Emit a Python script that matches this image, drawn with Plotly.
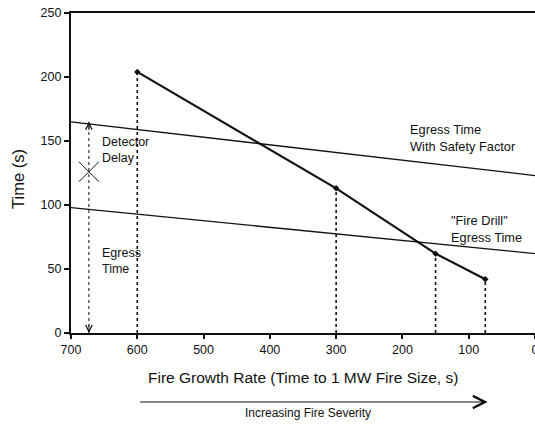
import plotly.graph_objects as go

# ---- data ----
growth_rate = [600, 300, 150, 75]          # time to 1 MW (s)
escape_time = [204, 113, 62, 42]           # available time (s)

line_x = [700, 0]
safety_egress = [165, 123]                 # Egress time with safety factor
drill_egress = [98, 62]                    # "Fire Drill" egress time

x_ticks = [700, 600, 500, 400, 300, 200, 100, 0]
y_ticks = [0, 50, 100, 150, 200, 250]

delay_x = 673
delay_top = 165
delay_mid = 126
delay_bottom = 0

FONT = "Liberation Sans, Arial, sans-serif"
INK = "#111111"

fig = go.Figure()

# vertical dotted drop lines
for gx, gy in zip(growth_rate, escape_time):
    fig.add_trace(go.Scatter(x=[gx, gx], y=[0, gy], mode="lines",
                             line=dict(color=INK, width=1.6, dash="dot"),
                             showlegend=False, hoverinfo="skip"))

# straight egress lines
fig.add_trace(go.Scatter(x=line_x, y=safety_egress, mode="lines",
                         line=dict(color=INK, width=1.3), showlegend=False))
fig.add_trace(go.Scatter(x=line_x, y=drill_egress, mode="lines",
                         line=dict(color=INK, width=1.3), showlegend=False))

# main curve
fig.add_trace(go.Scatter(x=growth_rate, y=escape_time, mode="lines+markers",
                         line=dict(color=INK, width=2.2),
                         marker=dict(color=INK, size=5, symbol="diamond"),
                         showlegend=False))

# delay / egress bracket (dotted)
fig.add_trace(go.Scatter(x=[delay_x, delay_x], y=[delay_bottom, delay_top], mode="lines",
                         line=dict(color=INK, width=1, dash="dot"),
                         showlegend=False, hoverinfo="skip"))
fig.add_trace(go.Scatter(x=[delay_x], y=[delay_mid], mode="markers",
                         marker=dict(symbol="x-thin-open", size=20, color=INK,
                                     line=dict(color=INK, width=1)),
                         showlegend=False, hoverinfo="skip"))

annotations = [
    # arrowheads for bracket
    dict(x=delay_x, y=delay_top, xref="x", yref="y", ax=0, ay=10, showarrow=True,
         arrowhead=5, arrowsize=1.6, arrowwidth=0.8, arrowcolor=INK, text=""),
    dict(x=delay_x, y=delay_bottom, xref="x", yref="y", ax=0, ay=-10, showarrow=True,
         arrowhead=5, arrowsize=1.6, arrowwidth=0.8, arrowcolor=INK, text=""),
    # labels
    dict(x=656, y=143, xref="x", yref="y", text="Detector<br>Delay", showarrow=False,
         xanchor="left", yanchor="middle", align="left",
         font=dict(size=12.5, family=FONT, color=INK)),
    dict(x=656, y=56, xref="x", yref="y", text="Egress<br>Time", showarrow=False,
         xanchor="left", yanchor="middle", align="left",
         font=dict(size=12.5, family=FONT, color=INK)),
    dict(x=192, y=152, xref="x", yref="y", text="Egress Time<br>With Safety Factor",
         showarrow=False, xanchor="left", yanchor="middle", align="left",
         font=dict(size=12.8, family=FONT, color=INK)),
    dict(x=129, y=81, xref="x", yref="y", text="\"Fire Drill\"<br>Egress Time",
         showarrow=False, xanchor="left", yanchor="middle", align="left",
         font=dict(size=12.8, family=FONT, color=INK)),
    # axis titles
    dict(x=-0.1145, y=0.481, xref="paper", yref="paper", text="Time (s)", textangle=-90,
         showarrow=False, xanchor="center", yanchor="middle",
         font=dict(size=16.5, family=FONT, color=INK)),
    dict(x=0.5, y=-0.14, xref="paper", yref="paper",
         text="Fire Growth Rate (Time to 1 MW Fire Size, s)",
         showarrow=False, xanchor="center", yanchor="middle",
         font=dict(size=15.5, family=FONT, color=INK)),
    # severity arrow
    dict(x=0.898, y=-0.2156, xref="paper", yref="paper", ax=-349, ay=0,
         showarrow=True, arrowhead=5, arrowsize=2.4, arrowwidth=1, arrowcolor=INK, text=""),
    dict(x=0.51, y=-0.25, xref="paper", yref="paper", text="Increasing Fire Severity",
         showarrow=False, xanchor="center", yanchor="middle",
         font=dict(size=12, family=FONT, color=INK)),
]

fig.update_layout(
    width=535, height=425,
    margin=dict(l=71, r=0, t=13, b=92, pad=0),
    paper_bgcolor="white", plot_bgcolor="white",
    font=dict(family=FONT, color=INK),
    annotations=annotations,
    showlegend=False,
)
fig.update_xaxes(range=[700, 0], tickvals=x_ticks, ticks="outside", ticklen=4,
                 tickwidth=1.5, tickcolor=INK, showline=True, linewidth=2.2,
                 linecolor=INK, mirror=True, showgrid=False, zeroline=False,
                 ticklabeloverflow="allow", automargin=False,
                 tickfont=dict(size=12.5, family=FONT, color=INK))
fig.update_yaxes(range=[0, 250], tickvals=y_ticks, ticks="outside", ticklen=5,
                 tickwidth=1.5, tickcolor=INK, showline=True, linewidth=2.2,
                 linecolor=INK, mirror=True, showgrid=False, zeroline=False,
                 automargin=False,
                 tickfont=dict(size=12.5, family=FONT, color=INK))

fig.write_html("out.html")
